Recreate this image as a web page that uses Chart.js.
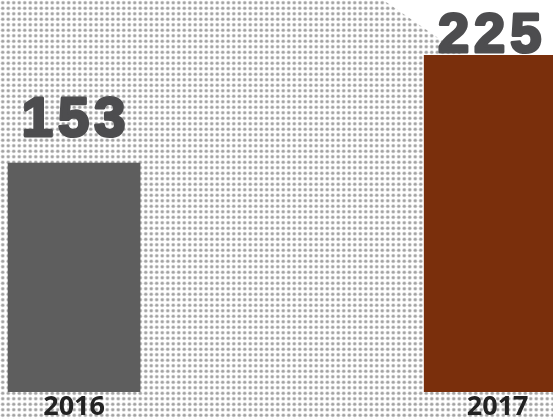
<!DOCTYPE html>
<html>
<head>
<meta charset="utf-8">
<script src="https://cdn.jsdelivr.net/npm/chart.js@4.4.1/dist/chart.umd.min.js"></script>
<style>
  html, body { margin: 0; padding: 0; background: #fff; }
  #wrap { width: 553px; height: 419px; }
</style>
</head>
<body>
<div id="wrap"><canvas id="chart" width="553" height="419"></canvas></div>
<script>
// valores
const years = [2016, 2017];
const totals = [153, 225];
const tickLabels = ["2016", "2017"];
const barColors = ["#5e5e5e", "#7a2f0c"];

// fundo pontilhado + triângulo branco no canto
const dotBackground = {
  id: "dotBackground",
  beforeDraw(chart) {
    const { ctx, width, height } = chart;
    const tile = document.createElement("canvas");
    tile.width = 11;
    tile.height = 11;
    const t = tile.getContext("2d");
    t.fillStyle = "#ffffff";
    t.fillRect(0, 0, 11, 11);
    [[2.75, 2.75], [8.25, 2.75], [2.75, 8.25], [8.25, 8.25]].forEach(([x, y]) => {
      t.fillStyle = "#d6d6d6";
      t.beginPath();
      t.arc(x, y, 2.1, 0, Math.PI * 2);
      t.fill();
      t.fillStyle = "#a3a3a3";
      t.beginPath();
      t.arc(x, y, 1.3, 0, Math.PI * 2);
      t.fill();
    });
    ctx.save();
    ctx.fillStyle = ctx.createPattern(tile, "repeat");
    ctx.fillRect(0, 0, width, height);
    ctx.fillStyle = "#ffffff";
    ctx.beginPath();
    ctx.moveTo(width * 0.693, 0);
    ctx.lineTo(width, 0);
    ctx.lineTo(width, height * 0.28);
    ctx.closePath();
    ctx.fill();
    ctx.restore();
  },
};

// rótulos grandes acima das barras
const bigLabels = {
  id: "bigLabels",
  afterDatasetsDraw(chart) {
    const { ctx } = chart;
    const meta = chart.getDatasetMeta(0);
    ctx.save();
    ctx.font = "bold 56px 'Liberation Sans', Arial, sans-serif";
    ctx.letterSpacing = "5px";
    ctx.textAlign = "center";
    ctx.textBaseline = "alphabetic";
    ctx.fillStyle = "#4d4d4f";
    ctx.strokeStyle = "#4d4d4f";
    ctx.lineWidth = 3;
    ctx.lineJoin = "round";
    meta.data.forEach((bar, i) => {
      const txt = String(totals[i]);
      const y = Math.max(bar.y - 27, 52);
      ctx.fillText(txt, bar.x + 2, y);
      ctx.strokeText(txt, bar.x + 2, y);
    });
    ctx.restore();
  },
};

new Chart(document.getElementById("chart"), {
  type: "bar",
  data: {
    datasets: [
      {
        data: years.map((yr, i) => ({ x: yr, y: totals[i] })),
        backgroundColor: barColors,
        barThickness: 132,
        borderWidth: 0,
      },
    ],
  },
  options: {
    responsive: false,
    animation: false,
    layout: { padding: 0 },
    plugins: {
      legend: { display: false },
      tooltip: { enabled: false },
    },
    scales: {
      x: {
        type: "linear",
        offset: false,
        min: 2015.822,
        max: 2017.151,
        grid: { display: false },
        border: { display: false },
        afterBuildTicks: (axis) => {
          // o rótulo de 2017 fica um pouco à direita do centro da barra
          axis.ticks = years.map((yr, i) => ({ value: yr + (i === 1 ? 0.018 : 0) }));
        },
        afterFit: (axis) => {
          axis.height = 27;
        },
        ticks: {
          padding: -6,
          color: "#222222",
          font: { family: "'Open Sans', sans-serif", size: 27, weight: "bold", lineHeight: 1 },
          maxRotation: 0,
          callback: (v, i) => tickLabels[i],
        },
      },
      y: {
        display: false,
        min: 0,
        max: 262,
      },
    },
  },
  plugins: [dotBackground, bigLabels],
});
</script>
</body>
</html>
